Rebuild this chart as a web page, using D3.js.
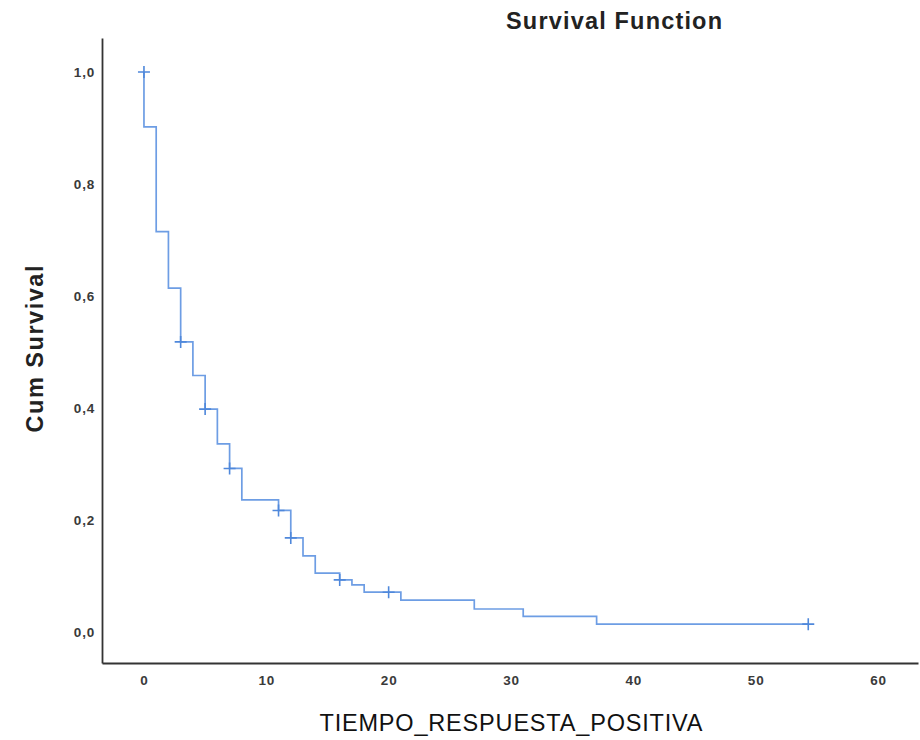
<!DOCTYPE html>
<html>
<head>
<meta charset="utf-8">
<script src="https://cdn.jsdelivr.net/npm/d3@7"></script>
<style>
    body { margin: 0; background: #fff; }
    svg text { font-family: Arial, "Liberation Sans", sans-serif; }
</style>
</head>
<body>
<div id="chart"></div>
<script>

// step curve: each value holds from its time onward
var stepTimes = [0, 0, 1, 2, 3, 4, 5, 6, 7, 8, 11, 12, 13, 14, 16, 17, 18, 21, 27, 31, 37, 54.3];
var stepSurvival = [1.0, 0.902, 0.715, 0.614, 0.518, 0.458, 0.398, 0.336, 0.292, 0.236, 0.217,
    0.168, 0.136, 0.105, 0.093, 0.084, 0.071, 0.057, 0.041, 0.028, 0.014, 0.014];

// censored observations
var censorTimes = [0, 3, 5, 7, 11, 12, 16, 20, 54.3];
var censorSurvival = [1.0, 0.518, 0.398, 0.292, 0.217, 0.168, 0.093, 0.071, 0.014];

var xTicks = [0, 10, 20, 30, 40, 50, 60];
var yTicks = [0, 0.2, 0.4, 0.6, 0.8, 1.0];

var width = 920, height = 740;
var margin = { top: 38, right: 2, bottom: 77, left: 102 };

var svg = d3.select("#chart").append("svg")
    .attr("width", width)
    .attr("height", height);

var x = d3.scaleLinear()
    .domain([-3.43, 63.27])
    .range([margin.left, width - margin.right]);

var y = d3.scaleLinear()
    .domain([-0.0554, 1.0607])
    .range([height - margin.bottom, margin.top]);

var commaFormat = function(d) { return d3.format(".1f")(d).replace(".", ","); };

// axes
var yAxis = d3.axisLeft(y)
    .tickValues(yTicks)
    .tickFormat(commaFormat)
    .tickSize(0)
    .tickPadding(7);

var xAxis = d3.axisBottom(x)
    .tickValues(xTicks)
    .tickFormat(d3.format("d"))
    .tickSize(0)
    .tickPadding(12);

var gy = svg.append("g")
    .attr("transform", "translate(" + margin.left + ",0)")
    .call(yAxis);

var gx = svg.append("g")
    .attr("transform", "translate(0," + (height - margin.bottom) + ")")
    .call(xAxis);

[gx, gy].forEach(function(g) {
    g.select(".domain").attr("stroke", "#333").attr("stroke-width", 1.8);
    g.selectAll("text")
        .attr("font-size", 13.5)
        .attr("font-weight", "bold")
        .attr("fill", "#3a3a3a")
        .attr("letter-spacing", 0.8);
});

// survival step line
var points = stepTimes.map(function(t, i) { return [t, stepSurvival[i]]; });

var line = d3.line()
    .x(function(d) { return x(d[0]); })
    .y(function(d) { return y(d[1]); })
    .curve(d3.curveStepAfter);

svg.append("path")
    .datum(points)
    .attr("fill", "none")
    .attr("stroke", "#6d9de4")
    .attr("stroke-width", 1.7)
    .attr("d", line);

// censor marks
svg.selectAll(".censor")
    .data(censorTimes)
    .enter()
    .append("path")
    .attr("class", "censor")
    .attr("transform", function(d, i) { return "translate(" + x(d) + "," + y(censorSurvival[i]) + ")"; })
    .attr("d", "M-6,0H6M0,-6V6")
    .attr("stroke", "#4f88db")
    .attr("stroke-width", 1.6)
    .attr("fill", "none");

// titles
svg.append("text")
    .attr("x", 614)
    .attr("y", 29)
    .attr("text-anchor", "middle")
    .attr("font-size", 23.5)
    .attr("font-weight", "bold")
    .attr("fill", "#222")
    .attr("textLength", 216)
    .attr("lengthAdjust", "spacing")
    .text("Survival Function");

svg.append("text")
    .attr("x", 511)
    .attr("y", 731)
    .attr("text-anchor", "middle")
    .attr("font-size", 23.5)
    .attr("fill", "#111")
    .attr("textLength", 383)
    .attr("lengthAdjust", "spacing")
    .text("TIEMPO_RESPUESTA_POSITIVA");

svg.append("text")
    .attr("transform", "translate(43,349) rotate(-90)")
    .attr("text-anchor", "middle")
    .attr("font-size", 23.5)
    .attr("font-weight", "bold")
    .attr("fill", "#222")
    .attr("textLength", 167)
    .attr("lengthAdjust", "spacing")
    .text("Cum Survival");

</script>
</body>
</html>
